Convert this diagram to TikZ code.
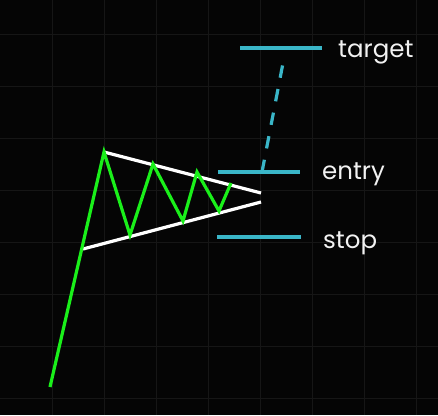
\documentclass[tikz,border=0pt]{standalone}
\usepackage{fontspec}
\setmainfont{Poppins}
\definecolor{bgblack}{HTML}{050505}
\definecolor{gridgray}{HTML}{161616}
\definecolor{levelcyan}{HTML}{3AB6C8}
\definecolor{pricegreen}{HTML}{1AF01A}
\definecolor{labelwhite}{HTML}{F2F2F2}
\tikzset{
  level/.style={levelcyan, line width=3.2pt},
  price/.style={pricegreen, line width=3.2pt, line join=miter},
  trend/.style={white, line width=3.2pt},
  levellabel/.style={labelwhite, anchor=base west, inner sep=0pt, font=\fontsize{24.5}{28}\selectfont}
}
\begin{document}
\begin{tikzpicture}[x=1pt, y=-1pt]%
\fill[bgblack] (0, 0) rectangle (438, 415);%
\useasboundingbox (0, 0) rectangle (438, 415);%
\foreach \gx in {52, 104, ..., 416} {\draw[gridgray, line width=1pt] (\gx, 0) -- (\gx, 415);}%
\foreach \gy in {34, 86, ..., 398} {\draw[gridgray, line width=1pt] (0, \gy) -- (438, \gy);}%
\coordinate (pole) at (50, 387);%
\coordinate (top) at (104, 152);%
\coordinate (base) at (83, 249);%
\coordinate (apexup) at (261, 193);%
\coordinate (apexlow) at (261, 202);%
\draw[trend] (top) -- (apexup);%
\draw[trend] (base) -- (apexlow);%
\draw[price] (pole) -- (top) -- (130, 235) -- (153, 164) -- (183, 221) -- (197, 172) -- (219, 211) -- (231, 183);%
\coordinate (entryleft) at (218, 172);%
\coordinate (entryright) at (300, 172);%
\coordinate (stopleft) at (217, 237);%
\coordinate (stopright) at (301, 237);%
\coordinate (targetleft) at (240, 48);%
\coordinate (targetright) at (322, 48);%
\draw[level] (entryleft) -- (entryright);%
\draw[level] (stopleft) -- (stopright);%
\draw[level] (targetleft) -- (targetright);%
\coordinate (movefoot) at (262, 172);%
\coordinate (movehead) at (283, 63);%
\draw[level, dash pattern=on 12.5pt off 11.5pt] (movefoot) -- (movehead);%
\node[levellabel] (targetlabel) at (338, 57) {target};%
\node[levellabel] (entrylabel) at (322, 179) {entry};%
\node[levellabel] (stoplabel) at (323, 248) {stop};%
\end{tikzpicture}
\end{document}
